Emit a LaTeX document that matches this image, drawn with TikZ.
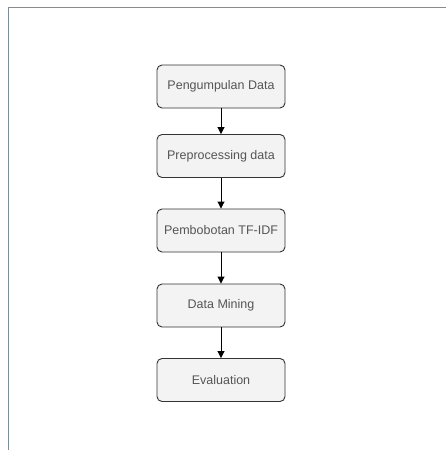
\documentclass[tikz,border=0pt]{standalone}
\usepackage{fontspec}
\setmainfont{Liberation Sans}
\usetikzlibrary{arrows.meta}
\definecolor{framec}{HTML}{7A9099}
\definecolor{boxfill}{HTML}{F3F3F3}
\definecolor{boxline}{HTML}{333333}
\definecolor{txt}{HTML}{555555}
\tikzset{
  stepbox/.style={draw=boxline, line width=0.9pt, fill=boxfill, rounded corners=5pt,
    minimum width=128pt, minimum height=43pt, text=txt, font=\fontsize{12.5pt}{14pt}\selectfont, inner sep=0pt},
  flow/.style={draw=black, line width=0.9pt, -{Triangle[length=7pt,width=7pt]}}
}
\begin{document}
\begin{tikzpicture}[x=1pt,y=-1pt]
\useasboundingbox (0,0) rectangle (446,450);
\fill[white] (0,0) rectangle (446,450);
\draw[framec, line width=1pt] (8,450) -- (8,7) -- (446,7);
\node[stepbox] (a) at (221,86.5) {Pengumpulan Data};
\node[stepbox] (b) at (221,156) {Preprocessing data};
\node[stepbox] (c) at (221,230.5) {Pembobotan TF-IDF};
\node[stepbox] (d) at (221,305.5) {Data Mining};
\node[stepbox] (e) at (221,380) {Evaluation};
\draw[flow] (a) -- (b);
\draw[flow] (b) -- (c);
\draw[flow] (c) -- (d);
\draw[flow] (d) -- (e);
\end{tikzpicture}
\end{document}
